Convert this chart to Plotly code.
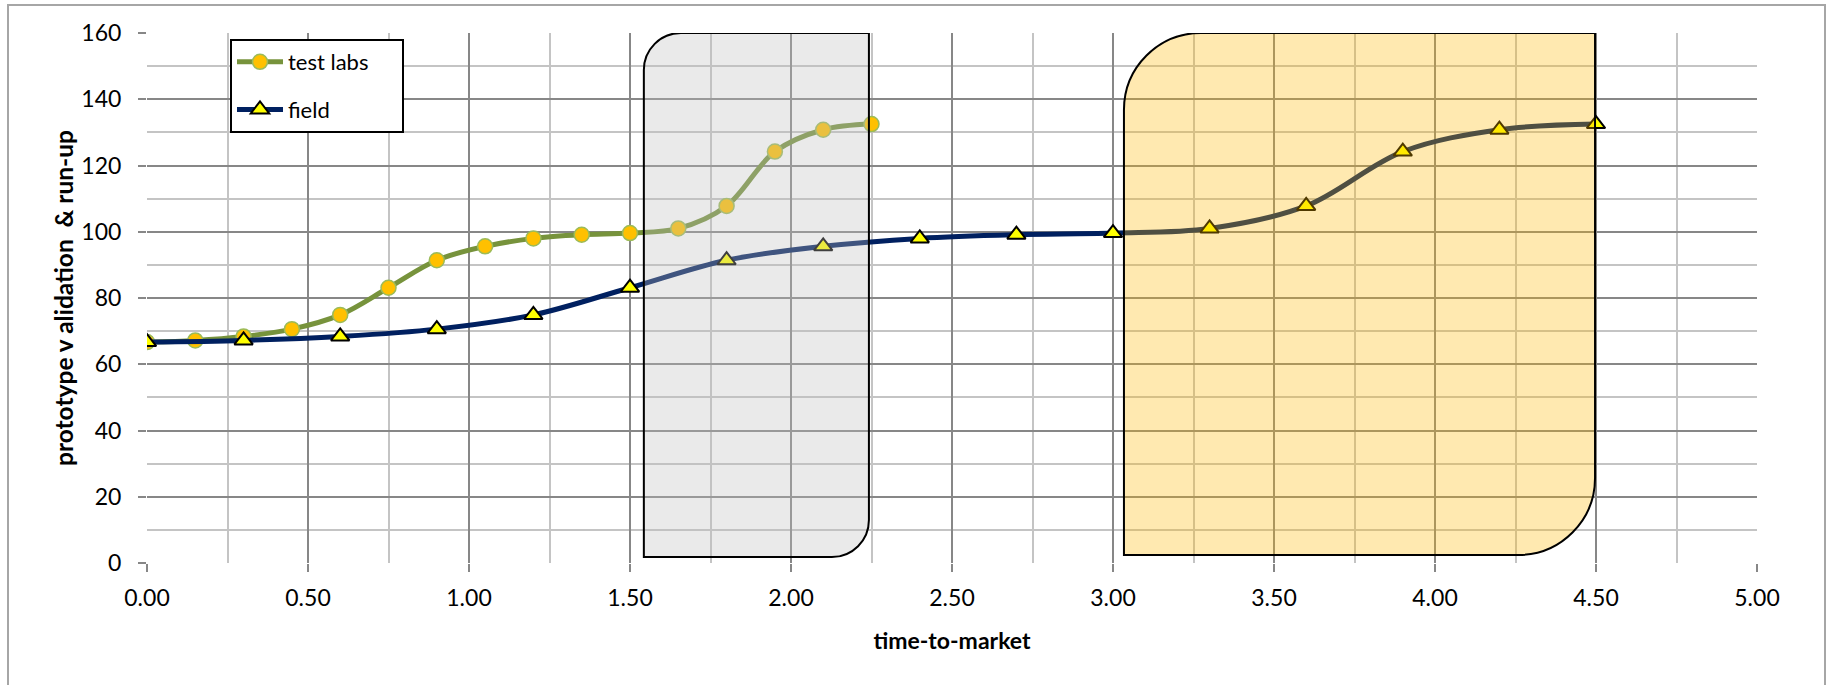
import plotly.graph_objects as go

# ---- data ----
labs_x = [0.00, 0.15, 0.30, 0.45, 0.60, 0.75, 0.90, 1.05, 1.20, 1.35, 1.50, 1.65, 1.80, 1.95, 2.10, 2.25]
labs_y = [66.7, 67.2, 68.4, 70.6, 74.9, 83.1, 91.4, 95.6, 98.0, 99.1, 99.6, 101.0, 107.8, 124.2, 130.8, 132.5]
field_x = [0.0, 0.3, 0.6, 0.9, 1.2, 1.5, 1.8, 2.1, 2.4, 2.7, 3.0, 3.3, 3.6, 3.9, 4.2, 4.5]
field_y = [66.7, 67.2, 68.4, 70.6, 74.9, 83.1, 91.4, 95.6, 98.0, 99.1, 99.6, 101.0, 107.8, 124.2, 130.8, 132.5]
series_names = ["test labs", "field"]
x_title = "time-to-market"
y_title = "prototype v alidation  & run-up"

FONT = "Lato"
W, H = 1829, 685
ML, MR, MT, MB = 147, 72, 33, 122
PW, PH = W - ML - MR, H - MT - MB
PAD = "\u00a0" * 5  # widen legend box to the right

fig = go.Figure()
fig.add_trace(go.Scatter(
    x=labs_x, y=labs_y, name=series_names[0] + PAD, mode="lines+markers",
    line=dict(color="#77933C", width=5, shape="spline", smoothing=1),
    marker=dict(symbol="circle", size=15, color="#FFC000",
                line=dict(color="#9BBB59", width=1.5)),
    legendgroup="a"))
fig.add_trace(go.Scatter(
    x=field_x, y=field_y, name=series_names[1], mode="lines+markers",
    line=dict(color="#002060", width=5, shape="spline", smoothing=1),
    marker=dict(symbol="triangle-up", size=16, color="#FFFF00",
                line=dict(color="#000000", width=2)),
    legendgroup="b"))


def diag_round_rect(x0, x1, y0, y1, rx, ry):
    k = 0.4477
    return (f"M {x0},{y0} L {x0},{y1 - ry} "
            f"C {x0},{y1 - ry * k} {x0 + rx * k},{y1} {x0 + rx},{y1} "
            f"L {x1},{y1} L {x1},{y0 + ry} "
            f"C {x1},{y0 + ry * k} {x1 - rx * k},{y0} {x1 - rx},{y0} Z")


px_per_x = PW / 5.0
px_per_y = PH / 160.0

shapes = [
    dict(type="path", xref="x", yref="y", layer="above",
         path=diag_round_rect(1.543, 2.242, 1.8, 160, 37 / px_per_x, 37 / px_per_y),
         fillcolor="rgba(191,191,191,0.33)", line=dict(color="#000000", width=2)),
    dict(type="path", xref="x", yref="y", layer="above",
         path=diag_round_rect(3.034, 4.497, 2.4, 160, 77 / px_per_x, 77 / px_per_y),
         fillcolor="rgba(255,184,0,0.31)", line=dict(color="#000000", width=2)),
    # outer chart border
    dict(type="rect", xref="paper", yref="paper", layer="below",
         x0=(8 - ML) / PW, x1=(1825 - ML) / PW,
         y0=(MT + PH - 720) / PH, y1=(MT + PH - 5) / PH,
         line=dict(color="#A6A6A6", width=2), fillcolor="rgba(0,0,0,0)"),
]

fig.update_layout(
    width=W, height=H,
    margin=dict(l=ML, r=MR, t=MT, b=MB, autoexpand=False),
    paper_bgcolor="white", plot_bgcolor="white",
    font=dict(family=FONT, size=23, color="#000000"),
    shapes=shapes,
    showlegend=True,
    legend=dict(x=(230 - ML) / PW, y=(MT + PH - 39) / PH, xanchor="left", yanchor="top",
                bgcolor="white", bordercolor="#000000", borderwidth=2,
                font=dict(family=FONT, size=22, color="#000000"),
                traceorder="grouped", tracegroupgap=16, itemwidth=46),
    xaxis=dict(range=[0, 5], dtick=0.5, tick0=0, tickformat=".2f",
               showgrid=True, gridcolor="#878787", gridwidth=2,
               minor=dict(dtick=0.25, showgrid=True, gridcolor="#C4C4C4", gridwidth=2),
               ticks="outside", ticklen=8, tickwidth=2, tickcolor="#878787",
               ticklabelstandoff=6,
               zeroline=False, showline=False,
               tickfont=dict(family=FONT, size=23),
               title=dict(text=f"<b>{x_title}</b>", font=dict(family=FONT, size=23), standoff=23)),
    yaxis=dict(range=[0, 160], dtick=20, tick0=0,
               showgrid=True, gridcolor="#878787", gridwidth=2,
               minor=dict(dtick=10, showgrid=True, gridcolor="#C4C4C4", gridwidth=2),
               ticks="outside", ticklen=8, tickwidth=2, tickcolor="#878787",
               ticklabelstandoff=12,
               zeroline=False, showline=False,
               tickfont=dict(family=FONT, size=23),
               title=dict(text=f"<b>{y_title}</b>", font=dict(family=FONT, size=24.5), standoff=0)),
)

fig.write_html("out.html",
               config={"displayModeBar": False},
               post_script="document.body.style.margin='0';document.body.style.overflow='hidden';")
